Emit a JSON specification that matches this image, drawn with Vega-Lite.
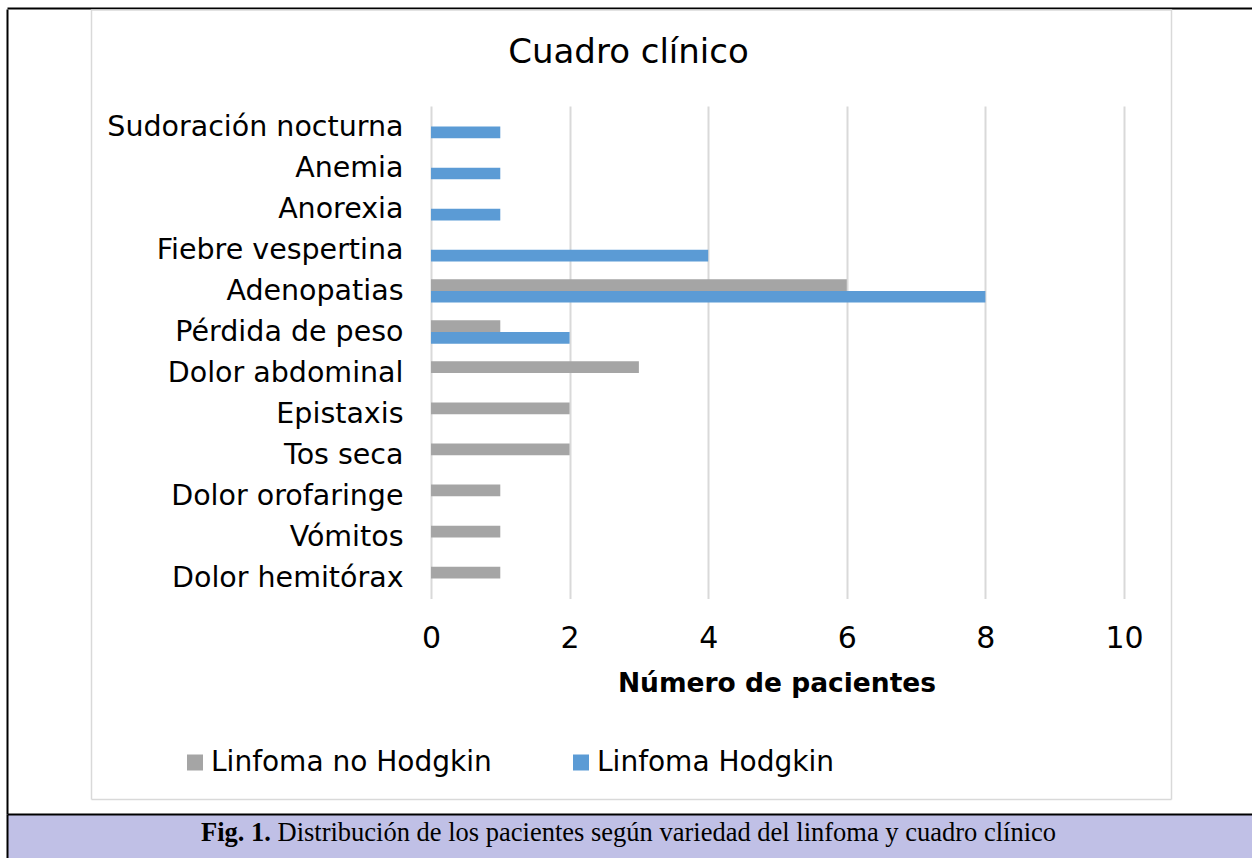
{
  "$schema": "https://vega.github.io/schema/vega-lite/v6.json",
  "background": "white",
  "padding": {"left": 7, "top": 8, "right": 0, "bottom": 0},
  "spacing": 0,
  "config": {"font": "DejaVu Sans", "view": {"stroke": null}},
  "datasets": {
    "sintomas": [
      {"sintoma": "Sudoración nocturna", "serie": "Linfoma Hodgkin", "n": 1},
      {"sintoma": "Anemia", "serie": "Linfoma Hodgkin", "n": 1},
      {"sintoma": "Anorexia", "serie": "Linfoma Hodgkin", "n": 1},
      {"sintoma": "Fiebre vespertina", "serie": "Linfoma Hodgkin", "n": 4},
      {"sintoma": "Adenopatias", "serie": "Linfoma no Hodgkin", "n": 6},
      {"sintoma": "Adenopatias", "serie": "Linfoma Hodgkin", "n": 8},
      {"sintoma": "Pérdida de peso", "serie": "Linfoma no Hodgkin", "n": 1},
      {"sintoma": "Pérdida de peso", "serie": "Linfoma Hodgkin", "n": 2},
      {"sintoma": "Dolor abdominal", "serie": "Linfoma no Hodgkin", "n": 3},
      {"sintoma": "Epistaxis", "serie": "Linfoma no Hodgkin", "n": 2},
      {"sintoma": "Tos seca", "serie": "Linfoma no Hodgkin", "n": 2},
      {"sintoma": "Dolor orofaringe", "serie": "Linfoma no Hodgkin", "n": 1},
      {"sintoma": "Vómitos", "serie": "Linfoma no Hodgkin", "n": 1},
      {"sintoma": "Dolor hemitórax", "serie": "Linfoma no Hodgkin", "n": 1}
    ],
    "pie": [
      {"fig": "Fig. 1.", "texto": "Distribución de los pacientes según variedad del linfoma y cuadro clínico"}
    ]
  },
  "vconcat": [
    {
      "width": 1245,
      "height": 805,
      "title": {
        "text": "Cuadro clínico",
        "fontSize": 34,
        "font": "DejaVu Sans",
        "fontWeight": "normal",
        "color": "black",
        "anchor": "middle",
        "frame": "group",
        "offset": -62,
        "dx": -1
      },
      "data": {"name": "sintomas"},
      "layer": [
        {
          "mark": {"type": "bar"},
          "encoding": {
            "y": {
              "field": "sintoma",
              "type": "nominal",
              "sort": ["Sudoración nocturna", "Anemia", "Anorexia", "Fiebre vespertina", "Adenopatias", "Pérdida de peso", "Dolor abdominal", "Epistaxis", "Tos seca", "Dolor orofaringe", "Vómitos", "Dolor hemitórax"],
              "scale": {"range": [97, 590], "paddingInner": 0.43, "paddingOuter": 0.215},
              "axis": {
                "orient": "left",
                "offset": -424,
                "domain": false,
                "ticks": false,
                "grid": false,
                "title": null,
                "labelPadding": 28,
                "labelFontSize": 28.5,
                "labelColor": "black",
                "labelLimit": 500,
                "labelFont": "DejaVu Sans"
              }
            },
            "x": {
              "field": "n",
              "type": "quantitative",
              "scale": {"domain": [-6.118, 11.847], "nice": false, "zero": false},
              "axis": {
                "orient": "bottom",
                "offset": -215.5,
                "values": [0, 2, 4, 6, 8, 10],
                "domain": false,
                "grid": false,
                "ticks": true,
                "tickSize": -492.5,
                "tickColor": "#d9d9d9",
                "tickWidth": 2,
                "labelFontSize": 30,
                "labelColor": "black",
                "labelPadding": 541,
                "labelBaseline": "alphabetic",
                "labelFlush": false,
                "title": "Número de pacientes",
                "titleFontSize": 26.5,
                "titleFontWeight": "bold",
                "titleColor": "black",
                "titleX": 769.5,
                "titleY": 92.5,
                "titleBaseline": "alphabetic",
                "titleAlign": "center"
              }
            },
            "yOffset": {
              "field": "serie",
              "type": "nominal",
              "scale": {"domain": ["Linfoma no Hodgkin", "Linfoma Hodgkin"]}
            },
            "color": {
              "field": "serie",
              "type": "nominal",
              "scale": {"domain": ["Linfoma no Hodgkin", "Linfoma Hodgkin"], "range": ["#a5a5a5", "#5b9bd5"]},
              "legend": {
                "orient": "none",
                "legendX": 174,
                "legendY": 739.5,
                "direction": "horizontal",
                "columns": 2,
                "title": null,
                "symbolType": "square",
                "symbolSize": 256,
                "symbolStrokeWidth": 0,
                "labelFontSize": 28,
                "labelColor": "black",
                "labelLimit": 500,
                "labelOffset": 2,
                "columnPadding": 75,
                "padding": 0
              }
            }
          }
        },
        {
          "mark": {"type": "point", "opacity": 0},
          "encoding": {
            "y": {
              "field": "sintoma",
              "type": "nominal",
              "axis": {"orient": "left", "offset": 0, "domainColor": "black", "domainWidth": 2, "labels": false, "ticks": false, "grid": false, "title": null}
            },
            "x": {
              "field": "n",
              "type": "quantitative",
              "axis": {"orient": "top", "offset": 1, "domainColor": "black", "domainWidth": 2, "labels": false, "ticks": false, "grid": false, "title": null}
            }
          }
        },
        {
          "mark": {"type": "point", "opacity": 0},
          "encoding": {
            "y": {
              "field": "sintoma",
              "type": "nominal",
              "scale": {"range": [0, 790]},
              "axis": {"orient": "left", "offset": -84, "domainColor": "#d9d9d9", "domainWidth": 1.5, "labels": false, "ticks": false, "grid": false, "title": null}
            },
            "x": {
              "field": "n",
              "type": "quantitative",
              "scale": {"range": [84, 1164]},
              "axis": {"orient": "top", "offset": -0.5, "domainColor": "#d9d9d9", "domainWidth": 1.5, "labels": false, "ticks": false, "grid": false, "title": null}
            }
          }
        },
        {
          "mark": {"type": "point", "opacity": 0},
          "encoding": {
            "y": {
              "field": "sintoma",
              "type": "nominal",
              "scale": {"range": [0, 790]},
              "axis": {"orient": "right", "offset": -81, "domainColor": "#d9d9d9", "domainWidth": 1.5, "labels": false, "ticks": false, "grid": false, "title": null}
            },
            "x": {
              "field": "n",
              "type": "quantitative",
              "scale": {"range": [84, 1164]},
              "axis": {"orient": "bottom", "offset": -15, "domainColor": "#d9d9d9", "domainWidth": 1.5, "labels": false, "ticks": false, "grid": false, "title": null}
            }
          }
        }
      ],
      "resolve": {
        "scale": {"x": "independent", "y": "independent"},
        "axis": {"x": "independent", "y": "independent"}
      }
    },
    {
      "width": 1245,
      "height": 44,
      "view": {"fill": "#c0c0e6", "stroke": null},
      "data": {"name": "pie"},
      "encoding": {
        "x": {"datum": 0, "type": "quantitative", "scale": {"domain": [-1, 1]}, "axis": {"orient": "top", "domainColor": "black", "domainWidth": 2, "labels": false, "ticks": false, "grid": false, "title": null}},
        "y": {"datum": 0, "type": "quantitative", "scale": {"domain": [-1, 1]}, "axis": {"orient": "left", "domainColor": "black", "domainWidth": 2, "labels": false, "ticks": false, "grid": false, "title": null}}
      },
      "layer": [
        {
          "mark": {"type": "text", "font": "Liberation Serif", "fontSize": 26.5, "fontWeight": "bold", "align": "right", "baseline": "alphabetic", "dx": -358.5, "dy": 5, "color": "black"},
          "encoding": {"text": {"field": "fig"}}
        },
        {
          "mark": {"type": "text", "font": "Liberation Serif", "fontSize": 26.5, "fontWeight": "normal", "align": "left", "baseline": "alphabetic", "dx": -352, "dy": 5, "color": "black"},
          "encoding": {"text": {"field": "texto"}}
        }
      ]
    }
  ]
}
